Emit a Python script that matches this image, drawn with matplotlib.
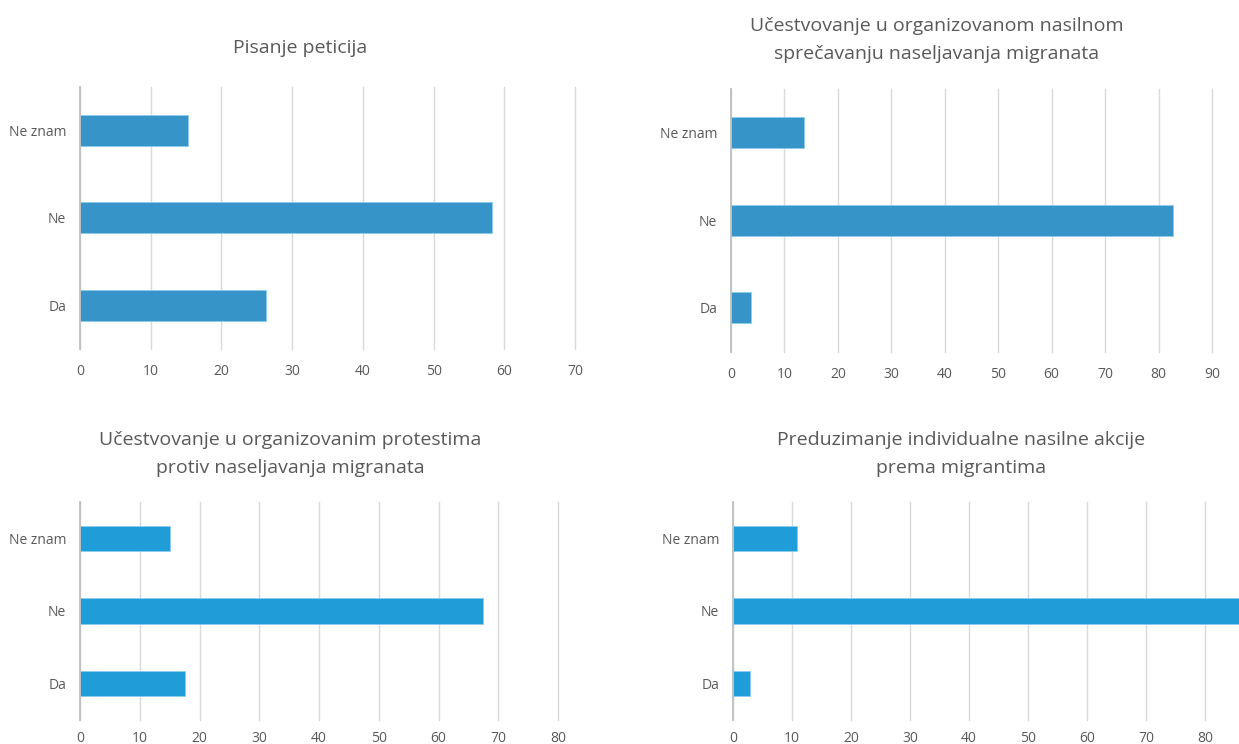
import matplotlib.pyplot as plt

plt.rcParams['font.family'] = ['Open Sans', 'DejaVu Sans']

categories = ['Da', 'Ne', 'Ne znam']

peticije = [26.3, 58.3, 15.3]
nasilno_sprecavanje = [3.8, 82.7, 13.6]
protesti = [17.5, 67.4, 15.1]
individualne_akcije = [2.9, 86.3, 10.8]

titles = ['Pisanje peticija',
          'Učestvovanje u organizovanom nasilnom\nsprečavanju naseljavanja migranata',
          'Učestvovanje u organizovanim protestima\nprotiv naseljavanja migranata',
          'Preduzimanje individualne nasilne akcije\nprema migrantima']

W, H = 1239, 744
text_color = '#595959'
top_color = '#3794C9'
bottom_color = '#1E9DD8'


def px_rect(x0, x1, y0, y1):
    # pixel box (y from top) -> figure fraction rect
    return [x0 / W, 1 - y1 / H, (x1 - x0) / W, (y1 - y0) / H]


def draw_panel(fig, rect, values, xmax, color, xpad=11):
    ax = fig.add_axes(rect)
    ax.barh(categories, values, height=0.35, color=color, edgecolor='#8CCBEB', linewidth=0.6, zorder=3)
    ax.set_xlim(0, xmax)
    ax.set_ylim(-0.5, 2.5)
    ax.set_xticks(range(0, xmax + 1, 10))
    ax.grid(axis='x', color='#D9D9D9', linewidth=1.0, zorder=0)
    for gl in ax.get_xgridlines():
        gl.set_clip_on(False)
    for s in ['top', 'right', 'bottom']:
        ax.spines[s].set_visible(False)
    ax.spines['left'].set_color('#BFBFBF')
    ax.spines['left'].set_linewidth(1.3)
    ax.spines['left'].set_zorder(4)
    ax.tick_params(length=0, labelsize=10, labelcolor=text_color)
    ax.tick_params(axis='y', pad=10)
    ax.tick_params(axis='x', pad=xpad)
    return ax


fig = plt.figure(figsize=(W / 100, H / 100), dpi=100)

draw_panel(fig, px_rect(80, 575, 86.5, 349), peticije, 70, top_color)
draw_panel(fig, px_rect(731, 1212, 89, 351.5), nasilno_sprecavanje, 90, top_color)
draw_panel(fig, px_rect(80, 558, 502, 720), protesti, 80, bottom_color, xpad=8)
draw_panel(fig, px_rect(733, 1264, 502, 720), individualne_akcije, 90, bottom_color, xpad=8)

title_pos = [(300, 48), (937, 40), (290, 454), (961, 454)]
for t, (x, y) in zip(titles, title_pos):
    fig.text(x / W, 1 - y / H, t, ha='center', va='center', fontsize=14,
             color=text_color, linespacing=1.7)

plt.savefig('out.png', dpi=100)
